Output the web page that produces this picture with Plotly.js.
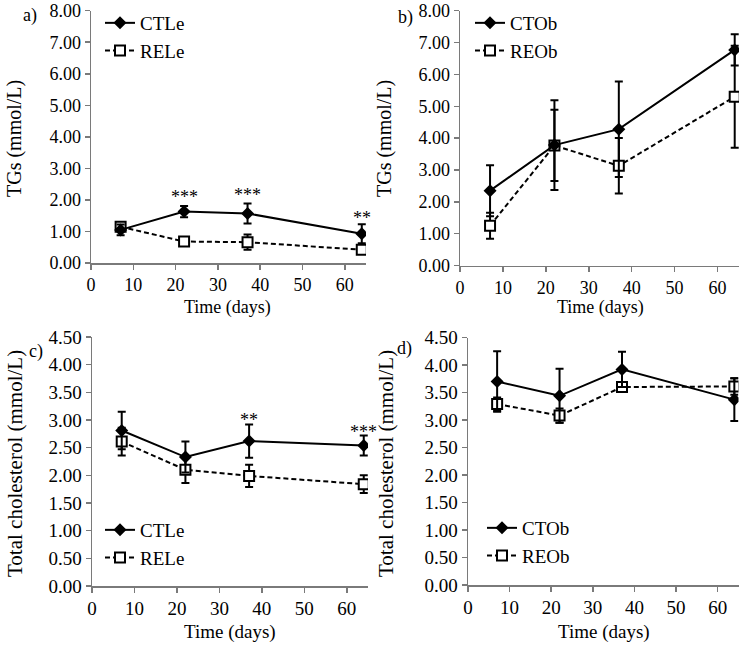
<!DOCTYPE html>
<html>
<head>
<meta charset="utf-8">
<script src="https://cdn.plot.ly/plotly-3.0.1.min.js"></script>
<style>html,body{margin:0;padding:0;background:#fff;}#chart{width:743px;height:650px;}</style>
</head>
<body>
<div id="chart"></div>
<script>
// ---- data ----
var days = [7, 22, 37, 64];

var tgCTLe = [1.05, 1.63, 1.57, 0.93];
var tgCTLeErr = [0.17, 0.18, 0.32, 0.30];
var tgRELe = [1.15, 0.68, 0.66, 0.42];
var tgRELeErr = [0.10, 0.07, 0.24, 0.12];

var tgCTOb = [2.35, 3.78, 4.28, 6.77];
var tgCTObErr = [0.80, 1.41, 1.50, 0.49];
var tgREOb = [1.25, 3.77, 3.13, 5.30];
var tgREObErr = [0.41, 1.12, 0.87, 1.60];

var tcCTLe = [2.81, 2.33, 2.62, 2.54];
var tcCTLeErr = [0.34, 0.28, 0.30, 0.18];
var tcRELe = [2.61, 2.10, 1.99, 1.84];
var tcRELeErr = [0.25, 0.24, 0.20, 0.16];

var tcCTOb = [3.70, 3.44, 3.92, 3.37];
var tcCTObErr = [0.55, 0.49, 0.32, 0.39];
var tcREOb = [3.29, 3.08, 3.60, 3.61];
var tcREObErr = [0.12, 0.13, 0.05, 0.15];

var panelLabels = ['a)', 'b)', 'c)', 'd)'];
var yTitles = ['TGs (mmol/L)', 'TGs (mmol/L)', 'Total cholesterol (mmol/L)', 'Total cholesterol (mmol/L)'];
var xTitle = 'Time (days)';

// significance marks
var sigA = {x: [22, 37, 64], y: [2.22, 2.28, 1.55], t: ['***', '***', '**']};
var sigC = {x: [37, 64], y: [3.08, 2.86], t: ['**', '***']};

// ---- drawing ----
var FONT = 'Liberation Serif';
var W = 743, H = 650;

function ctTrace(y, err, name, xa, ya, leg) {
  return {
    x: days, y: y, name: name, type: 'scatter', mode: 'lines+markers',
    xaxis: xa, yaxis: ya, legend: leg, legendgroup: name + xa,
    line: {color: '#000', width: 2},
    marker: {symbol: 'diamond', size: 10, color: '#000'},
    error_y: {type: 'data', array: err, visible: true, color: '#000', thickness: 2, width: 4}
  };
}
function reTrace(y, err, name, xa, ya, leg) {
  return {
    x: days, y: y, name: name, type: 'scatter', mode: 'lines+markers',
    xaxis: xa, yaxis: ya, legend: leg, legendgroup: name + xa,
    line: {color: '#000', width: 2, dash: '5px,3px'},
    marker: {symbol: 'square', size: 10, color: '#fff', line: {color: '#000', width: 2}},
    error_y: {type: 'data', array: err, visible: true, color: '#000', thickness: 2, width: 4}
  };
}

var data = [
  reTrace(tgRELe, tgRELeErr, 'RELe', 'x', 'y', 'legend'),
  ctTrace(tgCTLe, tgCTLeErr, 'CTLe', 'x', 'y', 'legend'),
  reTrace(tgREOb, tgREObErr, 'REOb', 'x2', 'y2', 'legend2'),
  ctTrace(tgCTOb, tgCTObErr, 'CTOb', 'x2', 'y2', 'legend2'),
  reTrace(tcRELe, tcRELeErr, 'RELe', 'x3', 'y3', 'legend3'),
  ctTrace(tcCTLe, tcCTLeErr, 'CTLe', 'x3', 'y3', 'legend3'),
  reTrace(tcREOb, tcREObErr, 'REOb', 'x4', 'y4', 'legend4'),
  ctTrace(tcCTOb, tcCTObErr, 'CTOb', 'x4', 'y4', 'legend4')
];

function px(v) { return v / W; }
function py(v) { return 1 - v / H; }

function xAx(l, r, anchor, fs) {
  return {
    domain: [px(l), px(r)], anchor: anchor, range: [0, 65], dtick: 10, tick0: 0,
    showline: true, linecolor: '#7a7a7a', linewidth: 1.5,
    ticks: 'outside', ticklen: 5, tickwidth: 1.5, tickcolor: '#7a7a7a',
    showgrid: false, zeroline: false, fixedrange: true,
    tickfont: {family: FONT, size: fs, color: '#000'}
  };
}
function yAx(top, bot, anchor, max, dt, fs) {
  return {
    domain: [py(bot), py(top)], anchor: anchor, range: [0, max], dtick: dt, tick0: 0,
    tickformat: '.2f',
    showline: true, linecolor: '#7a7a7a', linewidth: 1.5,
    ticks: 'outside', ticklen: 5, tickwidth: 1.5, tickcolor: '#7a7a7a',
    showgrid: false, zeroline: false, fixedrange: true,
    tickfont: {family: FONT, size: fs, color: '#000'}
  };
}

function legendAt(xPx, yPx, gap) {
  return {
    x: px(xPx), y: py(yPx), xanchor: 'left', yanchor: 'top',
    xref: 'paper', yref: 'paper',
    bgcolor: 'rgba(0,0,0,0)', borderwidth: 0,
    font: {family: FONT, size: 19, color: '#000'},
    traceorder: 'reversed', tracegroupgap: gap, itemclick: false
  };
}

var ann = [];
function txt(x, y, t, size, opts) {
  var a = {xref: 'paper', yref: 'paper', x: px(x), y: py(y), text: t, showarrow: false,
    font: {family: FONT, size: size, color: '#000'}, xanchor: 'center', yanchor: 'middle'};
  for (var k in opts) a[k] = opts[k];
  ann.push(a);
}
// panel labels
txt(30, 16, panelLabels[0], 18);
txt(406, 17, panelLabels[1], 18);
txt(36, 351, panelLabels[2], 18);
txt(404, 348, panelLabels[3], 18);
// y titles
txt(15, 139, yTitles[0], 20, {textangle: -90});
txt(385, 139, yTitles[1], 20, {textangle: -90});
txt(15, 464, yTitles[2], 21, {textangle: -90});
txt(386, 464, yTitles[3], 21, {textangle: -90});
// x titles
txt(227, 307, xTitle, 18);
txt(600, 307, xTitle, 18);
txt(230, 632, xTitle, 19);
txt(604, 632, xTitle, 19);
// significance stars
for (var i = 0; i < sigA.x.length; i++) {
  ann.push({xref: 'x', yref: 'y', x: sigA.x[i], y: sigA.y[i], text: sigA.t[i], showarrow: false,
    font: {family: FONT, size: 18, color: '#000'}, yshift: -4});
}
for (var j = 0; j < sigC.x.length; j++) {
  ann.push({xref: 'x3', yref: 'y3', x: sigC.x[j], y: sigC.y[j], text: sigC.t[j], showarrow: false,
    font: {family: FONT, size: 18, color: '#000'}, yshift: -4});
}

var layout = {
  width: W, height: H, margin: {l: 0, r: 0, t: 0, b: 0},
  paper_bgcolor: '#fff', plot_bgcolor: '#fff', showlegend: true,
  font: {family: FONT, color: '#000'},
  xaxis: xAx(91, 366, 'y', 18),
  yaxis: yAx(10.7, 263, 'x', 8, 1, 18),
  xaxis2: xAx(460, 739, 'y2', 18),
  yaxis2: yAx(10.7, 265.5, 'x2', 8, 1, 18),
  xaxis3: xAx(92, 368, 'y3', 19),
  yaxis3: yAx(337, 586, 'x3', 4.5, 0.5, 19),
  xaxis4: xAx(468, 738.5, 'y4', 19),
  yaxis4: yAx(337.5, 585, 'x4', 4.5, 0.5, 19),
  legend: legendAt(100, 4, 10),
  legend2: legendAt(470, 4, 10),
  legend3: legendAt(100, 511, 5),
  legend4: legendAt(482, 509, 5),
  annotations: ann
};

Plotly.newPlot('chart', data, layout, {displayModeBar: false, staticPlot: true});
</script>
</body>
</html>
